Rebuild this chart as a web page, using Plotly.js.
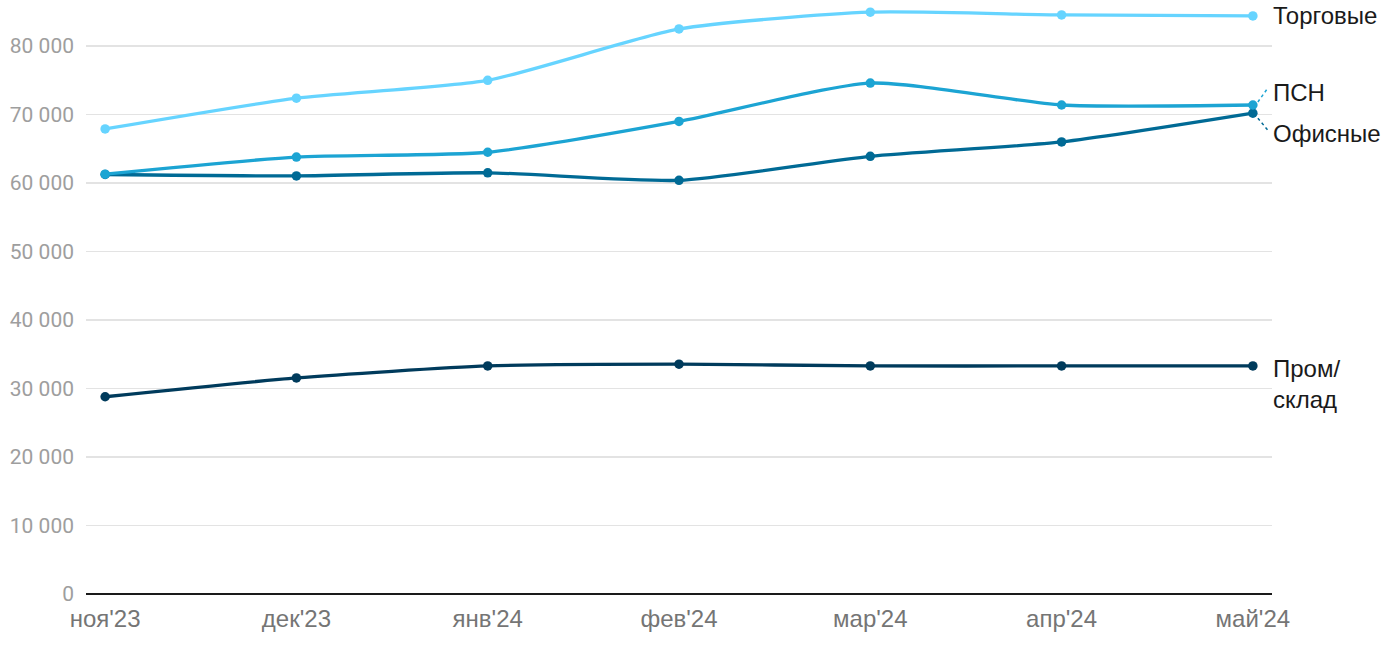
<!DOCTYPE html>
<html>
<head>
<meta charset="utf-8">
<script src="https://cdn.plot.ly/plotly-3.0.1.min.js"></script>
<style>html,body{margin:0;padding:0;background:#fff;}#chart{width:1400px;height:650px;}</style>
</head>
<body>
<div id="chart"></div>
<script>
const months = ["ноя'23", "дек'23", "янв'24", "фев'24", "мар'24", "апр'24", "май'24"];
const seriesNames = ["Торговые", "ПСН", "Офисные", "Пром/<br>склад"];
const torgovye = [67900, 72400, 75000, 82500, 84950, 84550, 84400];
const psn = [61300, 63800, 64500, 69000, 74600, 71400, 71400];
const ofisnye = [61250, 61050, 61500, 60400, 63900, 66000, 70200];
const promSklad = [28800, 31550, 33300, 33550, 33300, 33300, 33300];
const yTickVals = [0, 10000, 20000, 30000, 40000, 50000, 60000, 70000, 80000];
const yTickText = ["0", "10 000", "20 000", "30 000", "40 000", "50 000", "60 000", "70 000", "80 000"];

const colors = ["#66d4ff", "#1ca4d3", "#006a95", "#003b5c"];
const allSeries = [torgovye, psn, ofisnye, promSklad];
const xIdx = months.map((m, i) => i);

const traces = allSeries.map((vals, k) => ({
  x: xIdx, y: vals, type: 'scatter', mode: 'lines+markers',
  line: {color: colors[k], width: 3.3, shape: 'spline', smoothing: 0.6},
  marker: {color: colors[k], size: 9.5},
  hoverinfo: 'skip', showlegend: false
}));
traces.reverse();

const last = months.length - 1;
const yShifts = [0, 12, -20, -18];
const annotations = allSeries.map((vals, k) => ({
  x: last, y: vals[last], xref: 'x', yref: 'y',
  text: seriesNames[k], showarrow: false, xanchor: 'left', yanchor: 'middle', align: 'left',
  xshift: 18, yshift: yShifts[k],
  font: {family: '"Liberation Sans", Arial, sans-serif', size: 24, color: '#1a1a1a'}
}));

const shapes = [
  {type: 'line', xref: 'x', yref: 'y', xsizemode: 'pixel', ysizemode: 'pixel',
   xanchor: last, yanchor: psn[last], x0: 5, x1: 15, y0: 3, y1: 17,
   line: {color: colors[1], width: 1.5, dash: 'dot'}},
  {type: 'line', xref: 'x', yref: 'y', xsizemode: 'pixel', ysizemode: 'pixel',
   xanchor: last, yanchor: ofisnye[last], x0: 5, x1: 15, y0: -5, y1: -17,
   line: {color: colors[2], width: 1.5, dash: 'dot'}}
];

const layout = {
  width: 1400, height: 650,
  margin: {l: 86, r: 128, t: 5, b: 56},
  paper_bgcolor: '#fff', plot_bgcolor: '#fff',
  font: {family: 'Roboto, sans-serif'},
  xaxis: {
    range: [-0.1, last + 0.1], tickvals: xIdx, ticktext: months,
    showgrid: false, zeroline: false, showline: false, ticks: '',
    ticklabelstandoff: 8,
    tickfont: {family: '"Liberation Sans", Arial, sans-serif', size: 24, color: '#757575'}, fixedrange: true
  },
  yaxis: {
    range: [0, 86000], tickvals: yTickVals, ticktext: yTickText,
    showgrid: true, gridcolor: '#e3e3e3', gridwidth: 1.5,
    zeroline: true, zerolinecolor: '#1a1a1a', zerolinewidth: 2,
    showline: false, ticks: '', ticklabelstandoff: 11,
    tickfont: {family: 'Roboto, sans-serif', size: 21, color: '#9e9e9e'}, fixedrange: true
  },
  annotations: annotations,
  shapes: shapes
};

Plotly.newPlot('chart', traces, layout, {displayModeBar: false, staticPlot: true});
</script>
</body>
</html>
